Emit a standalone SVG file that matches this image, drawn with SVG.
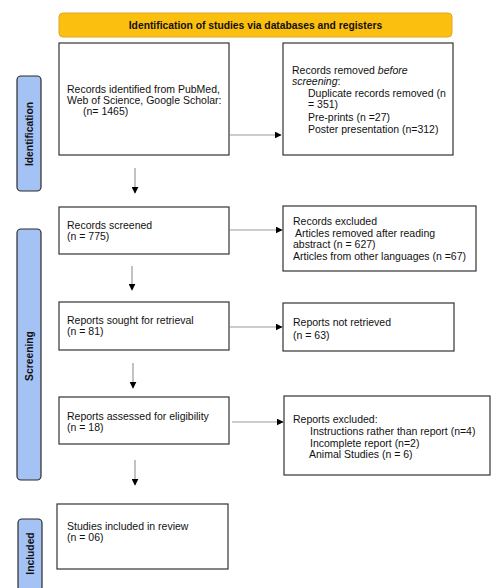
<svg xmlns="http://www.w3.org/2000/svg" width="501" height="588" viewBox="0 0 501 588">
<style>
  .box { fill: #ffffff; stroke: #333333; stroke-width: 1.2; }
  .side { fill: #a4c2f4; stroke: #2b2b2b; stroke-width: 1.2; }
  .hdr { fill: #fbbf10; stroke: #e0a82a; stroke-width: 1; }
  .t { font-family: "Liberation Sans", Arial, sans-serif; font-size: 10.5px; fill: #111111; }
  .b { font-family: "Liberation Sans", Arial, sans-serif; font-size: 10.3px; font-weight: bold; fill: #111111; }
  .c { stroke: #9a9a9a; stroke-width: 1.2; fill: none; }
</style>
<defs>
  <marker id="ah" viewBox="0 0 10 10" refX="9" refY="5" markerWidth="7" markerHeight="7" markerUnits="userSpaceOnUse" orient="auto">
    <path d="M0,0 L10,5 L0,10 z" fill="#000000"/>
  </marker>
</defs>
<rect width="501" height="588" fill="#ffffff"/>

<g id="header">
  <rect class="hdr" x="59" y="13" width="393" height="24" rx="4"/>
  <text class="b" x="255.5" y="29" text-anchor="middle">Identification of studies via databases and registers</text>
</g>

<g id="label-identification">
  <rect class="side" x="17" y="76" width="24" height="115" rx="4"/>
  <text class="b" transform="translate(32.8,134) rotate(-90)" text-anchor="middle">Identification</text>
</g>
<g id="label-screening">
  <rect class="side" x="17" y="229" width="24" height="251" rx="4"/>
  <text class="b" transform="translate(32.8,356) rotate(-90)" text-anchor="middle">Screening</text>
</g>
<g id="label-included">
  <rect class="side" x="18" y="519" width="24" height="72" rx="4"/>
  <text class="b" transform="translate(33.8,553.5) rotate(-90)" text-anchor="middle">Included</text>
</g>

<g id="records-identified">
  <rect class="box" x="59" y="43" width="170" height="112"/>
  <text class="t" x="67" y="93">Records identified from PubMed,</text>
  <text class="t" x="67" y="104">Web of Science, Google Scholar:</text>
  <text class="t" x="83" y="115">(n= 1465)</text>
</g>

<g id="records-removed">
  <rect class="box" x="283" y="43" width="170" height="112"/>
  <text class="t" x="292" y="74">Records removed <tspan font-style="italic">before</tspan></text>
  <text class="t" x="292" y="85"><tspan font-style="italic">screening</tspan>:</text>
  <text class="t" x="308" y="96.5">Duplicate records removed (n</text>
  <text class="t" x="308" y="108">= 351)</text>
  <text class="t" x="308" y="121">Pre-prints (n =27)</text>
  <text class="t" x="308" y="132.5">Poster presentation (n=312)</text>
</g>

<g id="records-screened">
  <rect class="box" x="59" y="207" width="170" height="47"/>
  <text class="t" x="67" y="228.5">Records screened</text>
  <text class="t" x="67" y="239.5">(n = 775)</text>
</g>

<g id="records-excluded">
  <rect class="box" x="283" y="206" width="193" height="65"/>
  <text class="t" x="293" y="225">Records excluded</text>
  <text class="t" x="295" y="237"> Articles removed after reading</text>
  <text class="t" x="293" y="248">abstract (n = 627)</text>
  <text class="t" x="293" y="260">Articles from other languages (n =67)</text>
</g>

<g id="reports-sought">
  <rect class="box" x="59" y="302" width="170" height="48"/>
  <text class="t" x="67" y="323.5">Reports sought for retrieval</text>
  <text class="t" x="67" y="334.5">(n = 81)</text>
</g>

<g id="reports-not-retrieved">
  <rect class="box" x="283" y="303" width="171" height="48"/>
  <text class="t" x="293" y="326">Reports not retrieved</text>
  <text class="t" x="293" y="339">(n = 63)</text>
</g>

<g id="reports-assessed">
  <rect class="box" x="59" y="397" width="170" height="47"/>
  <text class="t" x="67" y="419.5">Reports assessed for eligibility</text>
  <text class="t" x="67" y="430.5">(n = 18)</text>
</g>

<g id="reports-excluded">
  <rect class="box" x="284" y="396" width="206" height="79"/>
  <text class="t" x="293" y="423">Reports excluded:</text>
  <text class="t" x="310" y="435">Instructions rather than report (n=4)</text>
  <text class="t" x="310" y="447">Incomplete report (n=2)</text>
  <text class="t" x="309" y="458">Animal Studies (n = 6)</text>
</g>

<g id="studies-included">
  <rect class="box" x="57" y="504" width="171" height="65"/>
  <text class="t" x="67" y="529.5">Studies included in review</text>
  <text class="t" x="67" y="540.5">(n = 06)</text>
</g>

<g id="connectors">
  <line class="c" x1="230" y1="135" x2="281" y2="135" marker-end="url(#ah)"/>
  <line class="c" x1="135" y1="168" x2="135" y2="193" marker-end="url(#ah)"/>
  <line class="c" x1="230" y1="230" x2="282" y2="230" marker-end="url(#ah)"/>
  <line class="c" x1="132" y1="266" x2="132" y2="290" marker-end="url(#ah)"/>
  <line class="c" x1="230" y1="327" x2="282" y2="327" marker-end="url(#ah)"/>
  <line class="c" x1="133" y1="363" x2="133" y2="388" marker-end="url(#ah)"/>
  <line class="c" x1="232" y1="422" x2="283" y2="422" marker-end="url(#ah)"/>
  <line class="c" x1="135" y1="460" x2="135" y2="485" marker-end="url(#ah)"/>
</g>
</svg>
